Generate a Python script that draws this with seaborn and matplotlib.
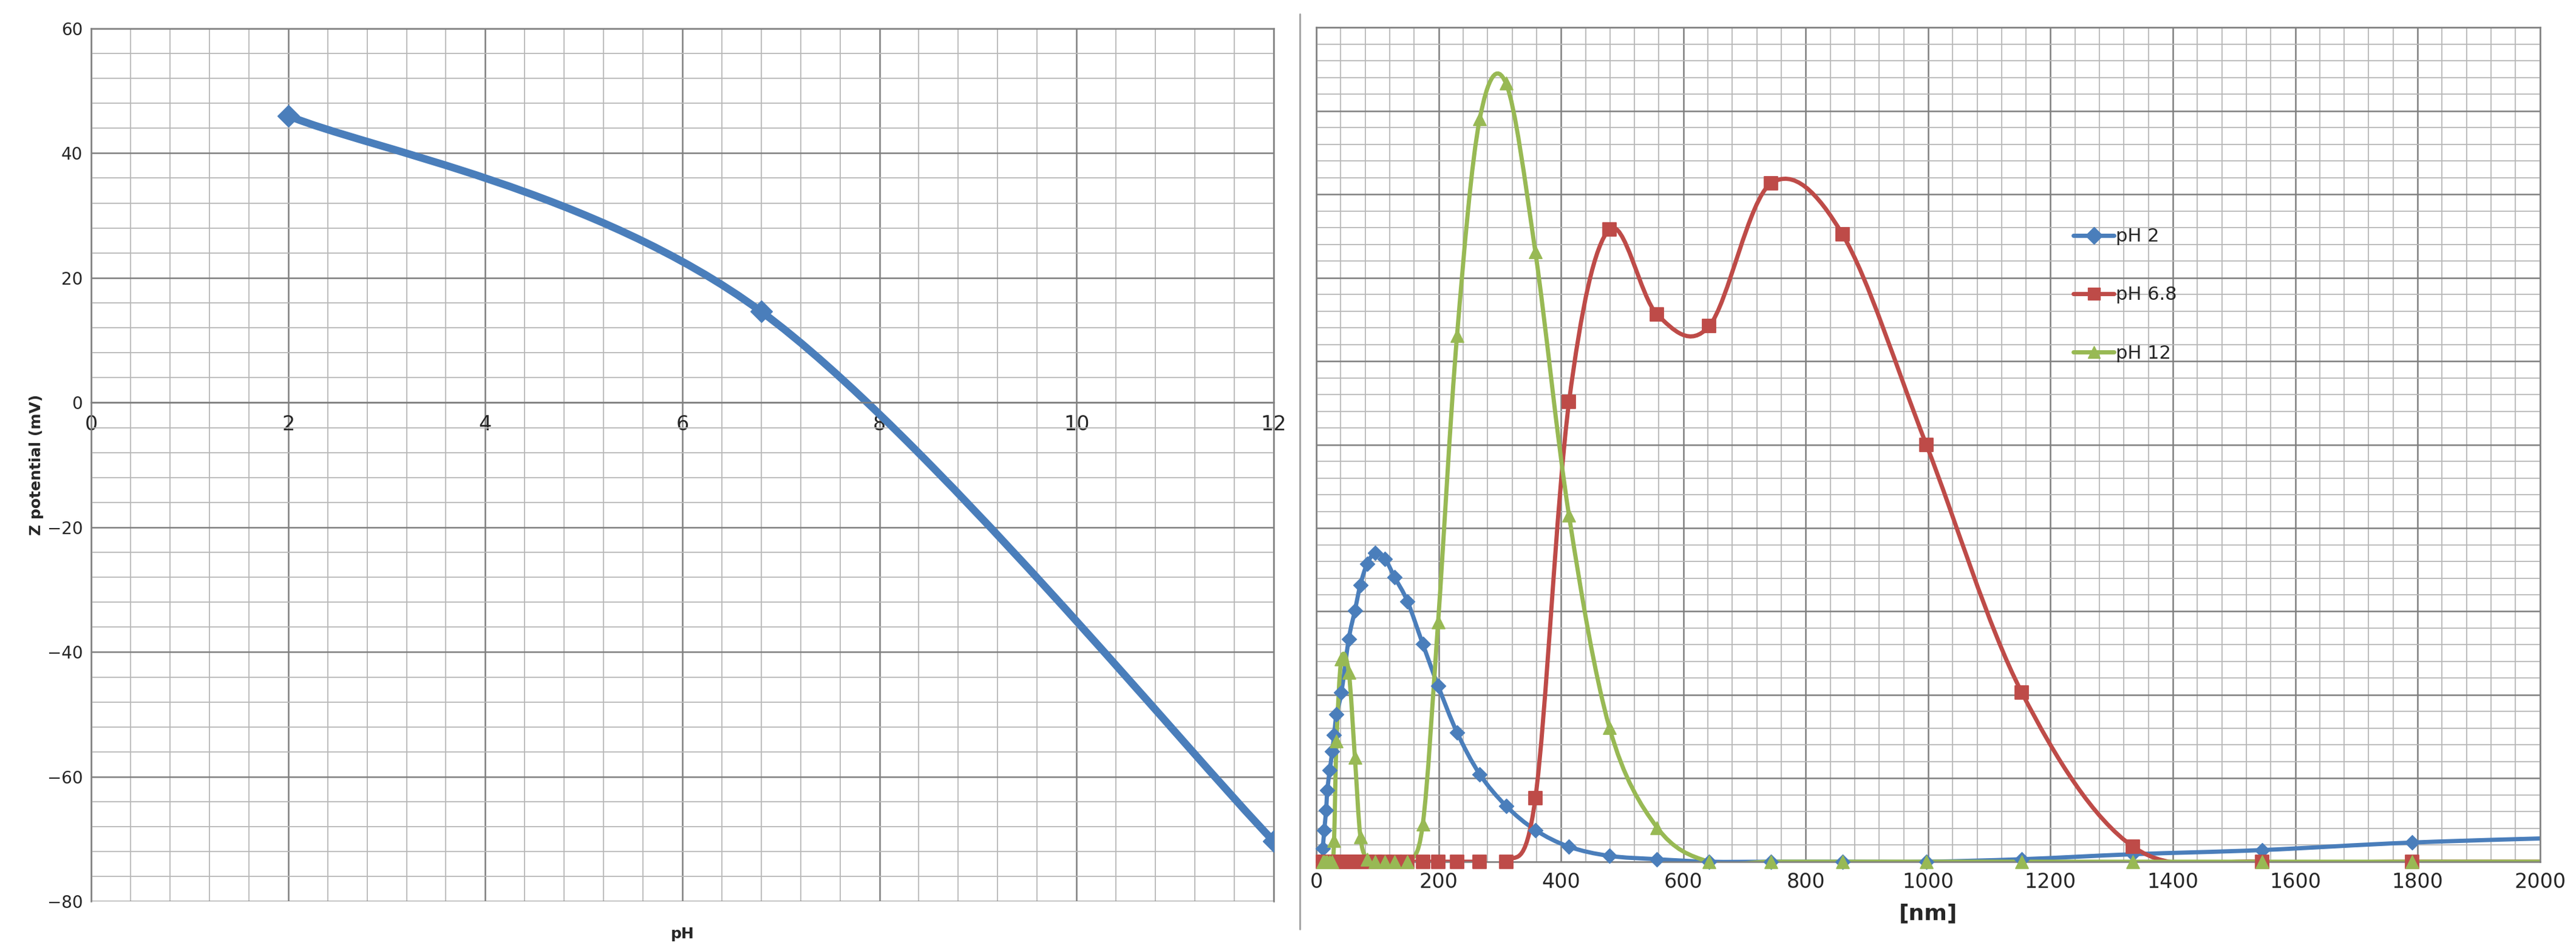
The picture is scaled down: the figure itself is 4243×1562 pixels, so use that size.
import numpy as np
import pandas as pd
import matplotlib
matplotlib.use("Agg")
import matplotlib.pyplot as plt
import seaborn as sns
from matplotlib.path import Path
from matplotlib.patches import PathPatch
from matplotlib.lines import Line2D
from matplotlib.ticker import MultipleLocator

# zeta potential vs pH
ph = [2, 6.8, 12]
zeta = [46, 14.6, -70.3]

# size distribution (nm) for three pH values
size_nm = [10.5, 13, 16, 18, 22, 26, 29, 33, 41, 53, 63, 72, 83, 96, 112, 128, 149,
           174, 199, 230, 267, 310, 358, 413, 479, 557, 642, 743, 860, 997, 1153,
           1335, 1546, 1791, 2100]
ph2 = [0.16, 0.38, 0.62, 0.86, 1.10, 1.32, 1.52, 1.77, 2.03, 2.67, 3.01, 3.32, 3.57,
       3.70, 3.63, 3.41, 3.12, 2.61, 2.11, 1.55, 1.05, 0.67, 0.38, 0.18, 0.07, 0.03,
       0, 0, 0, 0, 0.03, 0.09, 0.14, 0.23, 0.30]
ph68 = [0] * 22 + [0.76, 5.51, 7.58, 6.56, 6.42, 8.13, 7.52, 5.0, 2.03, 0.18, 0, 0, 0]
ph12 = [0, 0, 0, 0, 0, 0, 0.25, 1.45, 2.43, 2.27, 1.25, 0.3, 0.03, 0, 0, 0, 0,
        0.45, 2.87, 6.31, 8.9, 9.33, 7.31, 4.15, 1.61, 0.41, 0, 0, 0, 0, 0, 0, 0, 0, 0]

BLUE = "#4a7ebb"
RED = "#be4b48"
GREEN = "#98b954"


def smooth_path(xs, ys):
    # excel-like smoothed line: catmull-rom segments as cubic beziers
    p = np.column_stack([xs, ys]).astype(float)
    verts = [p[0]]
    codes = [Path.MOVETO]
    n = len(p)
    for i in range(n - 1):
        p0 = p[i - 1] if i > 0 else p[i]
        p3 = p[i + 2] if i + 2 < n else p[i + 1]
        c1 = p[i] + (p[i + 1] - p0) / 6
        c2 = p[i + 1] - (p3 - p[i]) / 6
        verts += [c1, c2, p[i + 1]]
        codes += [Path.CURVE4] * 3
    return Path(verts, codes)


def style_grid(ax):
    ax.grid(True, which="major", color="#7f7f7f", lw=1.8)
    ax.grid(True, which="minor", color="#b8b8b8", lw=1.3)
    ax.tick_params(which="both", length=0)
    for s in ax.spines.values():
        s.set_color("#7f7f7f")
        s.set_linewidth(1.8)


sns.set_style("white")
plt.rcParams["font.family"] = ["DejaVu Sans"]

fig = plt.figure(figsize=(42.43, 15.62), dpi=100)

# left panel
ax1 = fig.add_axes([0.0354, 0.049, 0.459, 0.921])
df1 = pd.DataFrame({"pH": ph, "zeta": zeta})
ax1.add_patch(PathPatch(smooth_path(ph, zeta), fc="none", ec=BLUE, lw=9, capstyle="round"))
sns.scatterplot(data=df1, x="pH", y="zeta", ax=ax1, marker="D", s=320, color=BLUE,
                edgecolor=BLUE, zorder=5)
ax1.set_xlim(0, 12)
ax1.set_ylim(-80, 60)
ax1.xaxis.set_major_locator(MultipleLocator(2))
ax1.xaxis.set_minor_locator(MultipleLocator(0.4))
ax1.yaxis.set_major_locator(MultipleLocator(20))
ax1.yaxis.set_minor_locator(MultipleLocator(4))
style_grid(ax1)
ax1.spines["bottom"].set_position(("data", 0))
ax1.tick_params(axis="x", labelsize=24, pad=14)
ax1.tick_params(axis="y", labelsize=20, pad=10)
ax1.set_xlabel("")
ax1.set_ylabel("Z potential (mV)", fontsize=18, fontweight="bold")
ax1.text(6, -84, "pH", ha="center", va="top", fontsize=18, fontweight="bold")

# right panel
ax2 = fig.add_axes([0.511, 0.091, 0.475, 0.880])
series = [("pH 2", ph2, BLUE, "D", 150), ("pH 6.8", ph68, RED, "s", 260),
          ("pH 12", ph12, GREEN, "^", 230)]
handles = []
for name, vals, col, mk, sz in series:
    ax2.add_patch(PathPatch(smooth_path(size_nm, vals), fc="none", ec=col, lw=5))
    sns.scatterplot(x=size_nm, y=vals, ax=ax2, marker=mk, s=sz, color=col,
                    edgecolor=col, zorder=5, clip_on=False)
    handles.append(Line2D([], [], color=col, lw=5, marker=mk, markersize=14, label=name))
ax2.set_xlim(0, 2000)
ax2.set_ylim(0, 10)
ax2.xaxis.set_major_locator(MultipleLocator(200))
ax2.xaxis.set_minor_locator(MultipleLocator(40))
ax2.yaxis.set_major_locator(MultipleLocator(1))
ax2.yaxis.set_minor_locator(MultipleLocator(0.2))
style_grid(ax2)
ax2.set_yticklabels([])
ax2.tick_params(axis="x", labelsize=24, pad=12)
ax2.set_xlabel("[nm]", fontsize=26, fontweight="bold", labelpad=14)
ax2.legend(handles=handles, loc="upper left", bbox_to_anchor=(0.605, 0.78),
           frameon=False, fontsize=22, labelspacing=2.2, handlelength=2.2,
           handletextpad=0.1)

fig.add_artist(Line2D([0.5045, 0.5045], [0.02, 0.985], color="#a0a0a0", lw=2))

fig.savefig("out.png", dpi=100, facecolor="white")
plt.close(fig)
